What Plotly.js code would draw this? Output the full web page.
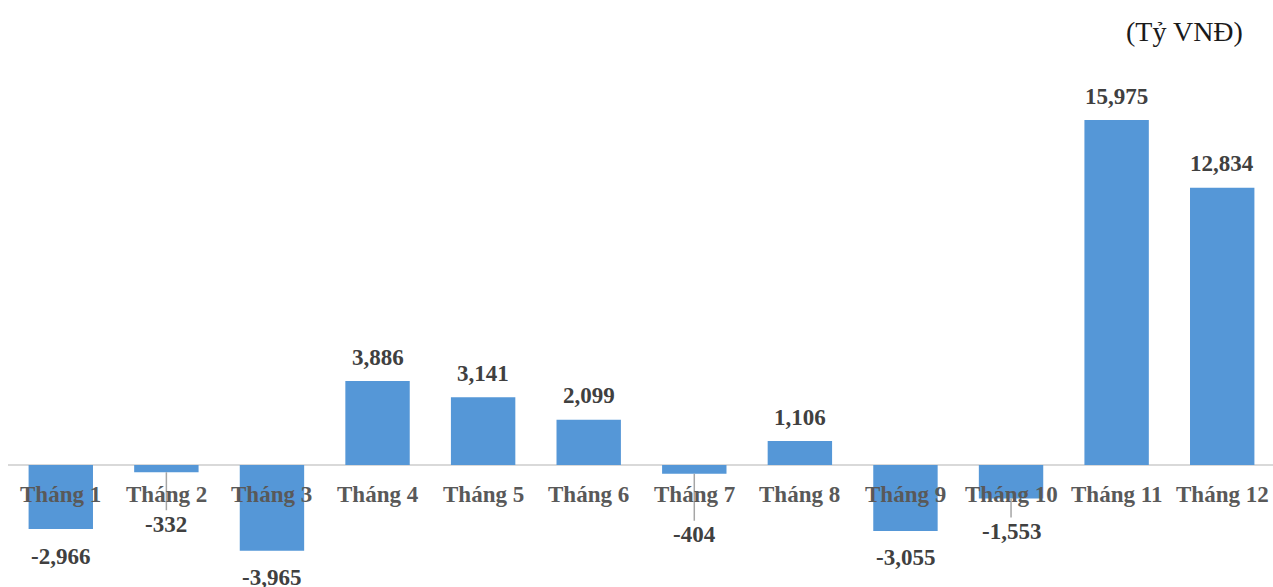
<!DOCTYPE html>
<html>
<head>
<meta charset="utf-8">
<script src="https://cdn.plot.ly/plotly-3.0.1.min.js"></script>
<style>
  html, body { margin: 0; padding: 0; background: #ffffff; overflow: hidden; }
  #chart { width: 1275px; height: 587px; }
</style>
</head>
<body>
<div id="chart"></div>
<script>
// ---- Data ----
const categories = ["Tháng 1", "Tháng 2", "Tháng 3", "Tháng 4", "Tháng 5", "Tháng 6",
                    "Tháng 7", "Tháng 8", "Tháng 9", "Tháng 10", "Tháng 11", "Tháng 12"];
const values = [-2966, -332, -3965, 3886, 3141, 2099, -404, 1106, -3055, -1553, 15975, 12834];
const unitLabel = "(Tỷ VNĐ)";

// ---- Style ----
const FONT = "'Liberation Serif', 'Times New Roman', serif";
const barColor = "#5597d7";
// leader-line offsets (px) for small negative labels, by category index
const leaderOffsets = { 1: 52, 6: 61, 9: 33 };

function fmt(v) {
  const s = Math.abs(v).toLocaleString("en-US");
  return (v < 0 ? "-" : "") + s;
}

const trace = {
  type: "bar",
  x: categories,
  y: values,
  marker: { color: barColor, line: { width: 0 } },
  hoverinfo: "skip"
};

const annotations = [];
values.forEach((v, i) => {
  const base = {
    x: categories[i], y: v, xref: "x", yref: "y",
    text: "<b>" + fmt(v) + "</b>",
    font: { family: FONT, size: 23, color: "#404040" },
    xanchor: "center", yanchor: "middle"
  };
  if (leaderOffsets[i] !== undefined) {
    Object.assign(base, {
      showarrow: true, arrowhead: 0, arrowwidth: 1.5, arrowcolor: "#a6a6a6",
      ax: 0, ay: leaderOffsets[i], standoff: 0, startstandoff: 0
    });
  } else {
    Object.assign(base, { showarrow: false, yshift: v >= 0 ? 24 : -27 });
  }
  annotations.push(base);
});

categories.forEach((c) => {
  annotations.push({
    x: c, y: 0, xref: "x", yref: "y",
    text: "<b>" + c + "</b>",
    font: { family: FONT, size: 23, color: "#595959" },
    showarrow: false, xanchor: "center", yanchor: "middle", yshift: -29
  });
});

annotations.push({
  xref: "paper", yref: "paper", x: 0.976, y: 1, yshift: -31,
  text: unitLabel,
  font: { family: FONT, size: 28, color: "#1a1a1a" },
  showarrow: false, xanchor: "right", yanchor: "middle"
});

const layout = {
  width: 1275, height: 587,
  margin: { l: 8, r: 0, t: 0, b: 0, pad: 0 },
  paper_bgcolor: "#ffffff", plot_bgcolor: "#ffffff",
  showlegend: false,
  bargap: 0.39,
  xaxis: { type: "category", showticklabels: false, showgrid: false, zeroline: false, showline: false, ticks: "" },
  yaxis: { range: [-5649, 21532], showticklabels: false, showgrid: false,
           zeroline: true, zerolinecolor: "#d9d9d9", zerolinewidth: 2, showline: false, ticks: "" },
  annotations: annotations
};

Plotly.newPlot("chart", [trace], layout, { staticPlot: true, displayModeBar: false });
</script>
</body>
</html>
